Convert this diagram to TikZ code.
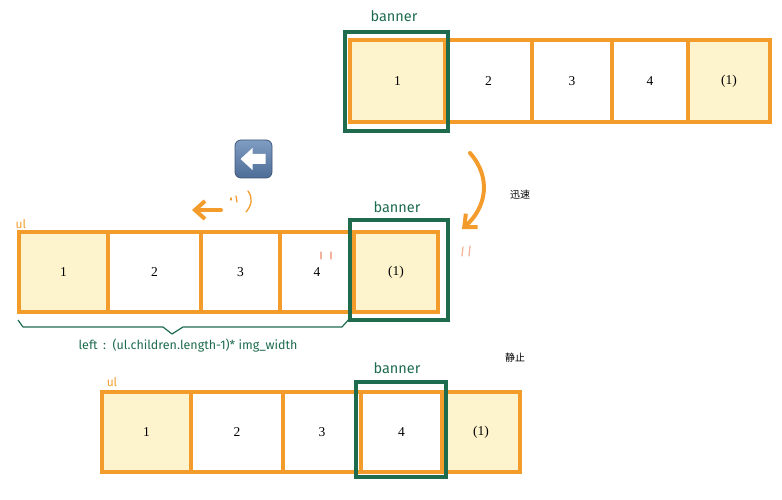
\documentclass[tikz,border=0pt]{standalone}
\usepackage{fontspec}
\setmainfont{Liberation Serif}
\newfontfamily\hand{Fira Sans}
\newfontfamily\cjk{Noto Sans CJK SC}
\usetikzlibrary{arrows.meta,calc}
\definecolor{org}{HTML}{F39C2C}
\definecolor{grn}{HTML}{1E6B4E}
\definecolor{ylw}{HTML}{FDF3CC}
\definecolor{pinkish}{HTML}{F2B49C}
\definecolor{emtop}{HTML}{7F9CC2}
\definecolor{embot}{HTML}{4E6D96}
\begin{document}
\begin{tikzpicture}[x=1pt,y=-1pt,
  cell/.style={draw=org, line width=3.5pt, inner sep=0pt, font=\fontsize{13.5}{13.5}\selectfont},
  hi/.style={fill=ylw},
  bannerbox/.style={draw=grn, line width=4pt, inner sep=0pt},
  bannerlbl/.style={text=grn, font=\hand\fontsize{14.5}{14.5}\selectfont, inner sep=0pt},
  ullbl/.style={text=org, font=\hand\fontsize{12}{12}\selectfont, inner sep=0pt},
  cjklbl/.style={font=\cjk\fontsize{10}{10}\selectfont, inner sep=0pt},
  tick/.style={draw=pinkish, line width=1.3pt, line cap=round},
  otick/.style={draw=org, line width=1.3pt, line cap=round},
  bigarrow/.style={draw=org, line width=4pt, line cap=round, -{Straight Barb[length=10pt,width=18pt,line width=4pt]}},
  brace/.style={draw=grn, line width=1.2pt, line join=round}
]
\useasboundingbox (0,0) rectangle (782,500);

% ---------- top row ----------
\node[cell, hi, minimum width=95, minimum height=82] (t1) at (397.5,81) {1};
\node[cell, minimum width=87, minimum height=82] (t2) at (488.5,81) {2};
\node[cell, minimum width=80, minimum height=82] (t3) at (572,81) {3};
\node[cell, minimum width=76, minimum height=82] (t4) at (650,81) {4};
\node[cell, hi, minimum width=82, minimum height=82] (t5) at (729,81) {(1)};
\node[bannerbox, minimum width=103, minimum height=99] (tb) at (396.5,81.5) {};
\node[bannerlbl] (tbl) at (394,16) {banner};

% ---------- middle row ----------
\node[cell, hi, minimum width=89, minimum height=80] (m1) at (63.5,272) {1};
\node[cell, minimum width=93, minimum height=80] (m2) at (154.5,272) {2};
\node[cell, minimum width=79, minimum height=80] (m3) at (240.5,272) {3};
\node[cell, minimum width=74, minimum height=80] (m4) at (317,272) {4};
\node[cell, hi, minimum width=84, minimum height=80] (m5) at (396,272) {(1)};
\node[bannerbox, minimum width=98, minimum height=100] (mb) at (399,270) {};
\node[bannerlbl] (mbl) at (397,207) {banner};
\node[ullbl] (mul) at (21,224) {ul};

% brace and formula
\coordinate (br0) at (18,320);
\coordinate (br1) at (350,318);
\draw[brace] (br0) -- (23,327) -- (163,327) -- (172,334) -- (183,327) -- (342,327) -- (br1);
\node[text=grn, font=\hand\fontsize{12.5}{12.5}\selectfont, inner sep=0pt] (formula) at (188,346)
  {left \,:\, (ul.children.length-1)* img\_width};

% ---------- bottom row ----------
\node[cell, hi, minimum width=89, minimum height=80] (b1) at (146.5,432) {1};
\node[cell, minimum width=92, minimum height=80] (b2) at (237,432) {2};
\node[cell, minimum width=78, minimum height=80] (b3) at (322,432) {3};
\node[cell, minimum width=81, minimum height=80] (b4) at (401.5,432) {4};
\node[cell, hi, minimum width=78, minimum height=80] (b5) at (481,432) {(1)};
\node[bannerbox, minimum width=90, minimum height=95] (bb) at (401,429.5) {};
\node[bannerlbl] (bbl) at (397,368) {banner};
\node[ullbl] (bul) at (112,382) {ul};

% ---------- labels ----------
\node[cjklbl] (fast) at (520,195) {迅速};
\node[cjklbl] (still) at (515,358) {静止};

% ---------- curved arrow ----------
\coordinate (ca0) at (470,153);
\coordinate (ca1) at (462,229);
\draw[bigarrow] (ca0) .. controls (492,178) and (486,208) .. (ca1);
\draw[tick] (463,247) -- (462,256);
\draw[tick] (470,246) -- (469,256);

% tick marks near 4
\draw[tick] (321,252) -- (321,259);
\draw[tick] (331,252) -- (331,259);

% ---------- left arrow ----------
\coordinate (la0) at (221,210);
\coordinate (la1) at (192,210);
\draw[bigarrow] (la0) -- (la1);
\draw[otick] (231,198) -- (231,200);
\draw[otick] (236,196) -- (237,202);
\draw[otick] (248,191) .. controls (253,198) and (252,205) .. (246,212);

% ---------- emoji-like button ----------
\node[draw=embot!80!black, line width=0.8pt, rounded corners=6pt, minimum width=37, minimum height=38,
      top color=emtop, bottom color=embot, inner sep=0pt] (emoji) at (253.5,159) {};
\fill[white] ($(emoji.center)+(-13,0)$) -- ($(emoji.center)+(-1,-11)$) -- ($(emoji.center)+(-1,-5)$)
  -- ($(emoji.center)+(12,-5)$) -- ($(emoji.center)+(12,5)$) -- ($(emoji.center)+(-1,5)$)
  -- ($(emoji.center)+(-1,11)$) -- cycle;
\end{tikzpicture}
\end{document}
